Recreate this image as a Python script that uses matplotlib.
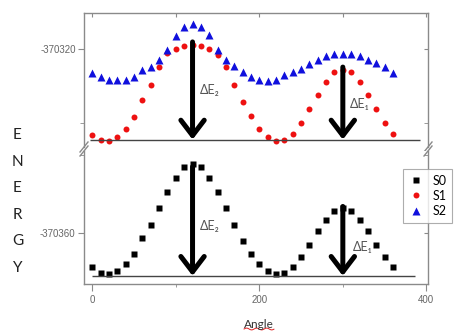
import numpy as np
import matplotlib
matplotlib.use("Agg")
import matplotlib.pyplot as plt
from matplotlib.ticker import FixedLocator, FormatStrFormatter

plt.rcParams["font.family"] = ["Lato", "DejaVu Sans"]
plt.rcParams["axes.unicode_minus"] = False

angles = list(range(0, 361, 10))

# ground state S0 (lower panel)
s0 = [-370364.3, -370365.1, -370365.3, -370364.9, -370364.0, -370362.7, -370360.7,
      -370359.0, -370356.8, -370354.8, -370352.9, -370351.6, -370351.1, -370351.6,
      -370352.9, -370354.8, -370356.8, -370359.0, -370361.0, -370362.7, -370364.0,
      -370364.9, -370365.3, -370365.1, -370364.4, -370363.1, -370361.5, -370359.8,
      -370358.3, -370357.2, -370356.8, -370357.2, -370358.3, -370359.8, -370361.5,
      -370363.1, -370364.4]

# excited states S1, S2 (upper panel)
s1 = [-370331.6, -370332.3, -370332.4, -370331.8, -370330.7, -370329.1, -370326.8,
      -370324.8, -370322.4, -370320.5, -370319.9, -370319.6, -370319.4, -370319.6,
      -370319.9, -370320.8, -370322.4, -370324.8, -370327.1, -370329.0, -370330.7,
      -370331.8, -370332.4, -370332.3, -370331.5, -370329.9, -370328.1, -370326.2,
      -370324.4, -370323.1, -370322.8, -370323.1, -370324.4, -370326.2, -370328.1,
      -370329.9, -370331.5]
s2 = [-370323.2, -370323.7, -370324.2, -370324.2, -370324.2, -370323.8, -370322.8,
      -370322.4, -370321.4, -370320.1, -370318.2, -370317.0, -370316.6, -370317.0,
      -370318.1, -370320.1, -370321.4, -370322.3, -370323.0, -370323.8, -370324.2,
      -370324.3, -370324.2, -370323.5, -370323.0, -370322.6, -370322.0, -370321.5,
      -370320.9, -370320.6, -370320.6, -370320.6, -370320.9, -370321.4, -370321.9,
      -370322.4, -370323.2]

# reference lines and the ΔE arrows
base_top = -370332.2
base_bot = -370365.5
arrow_x = [120, 300]
arrow_top_start = [-370319.0, -370322.4]
arrow_bot_start = [-370351.5, -370356.6]
de_labels = ["ΔE₂", "ΔE₁"]
de_top_pos = [(129, -370325.5), (308, -370327.4)]
de_bot_pos = [(129, -370359.1), (312, -370361.8)]

W, H = 457, 331
fig = plt.figure(figsize=(W / 100, H / 100), dpi=100)
ax_top = fig.add_axes([84 / W, 1 - 147 / H, 344 / W, 134.3 / H])
ax_bot = fig.add_axes([84 / W, 1 - 284 / H, 344 / W, 133 / H])

spine_col = "#8a8a8a"
tick_col = "#666666"

ax_top.plot(angles, s1, "o", color="#ee1111", ms=4.3, mec="none", label="S1")
ax_top.plot(angles, s2, "^", color="#1010dd", ms=5.2, mec="none", label="S2")
ax_bot.plot(angles, s0, "s", color="black", ms=3.8, mec="none", label="S0")

ax_top.hlines(base_top, -3, 392, color="#444444", lw=1)
ax_bot.hlines(base_bot, 0, 387, color="#444444", lw=1)

arrow_style = "->,head_length=0.55,head_width=0.42"
for ax, starts, base in [(ax_top, arrow_top_start, base_top), (ax_bot, arrow_bot_start, base_bot)]:
    for x, y0 in zip(arrow_x, starts):
        ax.annotate("", xy=(x, base), xytext=(x, y0),
                    arrowprops=dict(arrowstyle=arrow_style, lw=3.6, color="black",
                                    mutation_scale=20, shrinkA=0, shrinkB=0))

for ax, positions in [(ax_top, de_top_pos), (ax_bot, de_bot_pos)]:
    for lab, (x, y) in zip(de_labels, positions):
        ax.text(x, y, lab, fontsize=9, color="#555555", va="center", ha="left",
                family=["Lato", "DejaVu Sans"])

ax_top.set_xlim(-10, 402)
ax_bot.set_xlim(-10, 402)
ax_top.set_ylim(-370333.2, -370315.05)
ax_bot.set_ylim(-370366.54, -370349.49)

for ax in (ax_top, ax_bot):
    for sp in ax.spines.values():
        sp.set_color(spine_col)
        sp.set_linewidth(1.0)
    ax.yaxis.set_major_locator(FixedLocator([-370360, -370340, -370320]))
    ax.yaxis.set_minor_locator(FixedLocator([-370350, -370330]))
    ax.yaxis.set_major_formatter(FormatStrFormatter("%d"))
    ax.tick_params(axis="y", which="both", direction="out", left=True, right=False,
                   color=spine_col, labelcolor=tick_col, labelsize=7, pad=2)
    ax.tick_params(axis="y", which="major", length=4)
    ax.tick_params(axis="y", which="minor", length=3)
    for lbl in ax.get_yticklabels():
        lbl.set_family("Liberation Sans")
    # inward ticks on the right-hand side
    sec = ax.secondary_yaxis("right")
    sec.yaxis.set_major_locator(FixedLocator([-370360, -370340, -370320]))
    sec.yaxis.set_minor_locator(FixedLocator([-370350, -370330]))
    sec.tick_params(axis="y", which="both", direction="in", length=3, color=spine_col,
                    labelright=False)
    sec.spines["right"].set_visible(False)

ax_top.spines["bottom"].set_visible(False)
ax_bot.spines["top"].set_visible(False)

ax_top.xaxis.set_major_locator(FixedLocator([0, 100, 200, 300, 400]))
ax_top.tick_params(axis="x", which="both", top=True, bottom=False, direction="in",
                   length=3, color=spine_col, labelbottom=False)

ax_bot.xaxis.set_major_locator(FixedLocator([0, 200, 400]))
ax_bot.xaxis.set_minor_locator(FixedLocator([100, 300]))
ax_bot.tick_params(axis="x", which="both", direction="out", top=False, color=spine_col,
                   labelcolor=tick_col, labelsize=7, pad=3)
ax_bot.tick_params(axis="x", which="major", length=5)
ax_bot.tick_params(axis="x", which="minor", length=2.5)
for lbl in ax_bot.get_xticklabels():
    lbl.set_family("Liberation Sans")

# axis break marks
dx_top, dy_top = 4 / 344, 5 / 134.3
dx_bot, dy_bot = 4 / 344, 5 / 133
for xe in (0, 1):
    ax_top.plot([xe - dx_top, xe + dx_top], [-dy_top, dy_top], transform=ax_top.transAxes,
                color=spine_col, lw=1, clip_on=False)
    ax_bot.plot([xe - dx_bot, xe + dx_bot], [1 - dy_bot, 1 + dy_bot], transform=ax_bot.transAxes,
                color=spine_col, lw=1, clip_on=False)

# legend
h_s0, = ax_bot.get_lines()[:1]
h_s1, h_s2 = ax_top.get_lines()[:2]
leg = fig.legend([h_s0, h_s1, h_s2], ["S0", "S1", "S2"], loc="upper left",
                 bbox_to_anchor=(403 / W, 1 - 169 / H), frameon=True, fancybox=False,
                 fontsize=9, handlelength=1.2, handletextpad=0.7, labelspacing=0.25,
                 borderpad=0.45, borderaxespad=0)
leg.get_frame().set_edgecolor("#999999")
leg.get_frame().set_linewidth(0.8)

# vertical ENERGY label
for i, ch in enumerate("ENERGY"):
    fig.text(17.5 / W, 1 - (135 + i * 26.6) / H, ch, fontsize=11, color="#222222",
             ha="center", va="center")

xl = fig.text(259 / W, 1 - 324 / H, "Angle", fontsize=8.5, color="#333333",
              ha="center", va="center")

# red squiggle under the x label
fig.canvas.draw()
bb = xl.get_window_extent()
xs = np.linspace(bb.x0, bb.x1, 60)
ys = bb.y0 + 0.5 + 0.9 * np.sin((xs - bb.x0) / 1.6)
fig.add_artist(plt.Line2D(xs / fig.bbox.width, ys / fig.bbox.height, color="#dd2222", lw=0.7,
                          transform=fig.transFigure))

fig.savefig("out.png", dpi=100)
